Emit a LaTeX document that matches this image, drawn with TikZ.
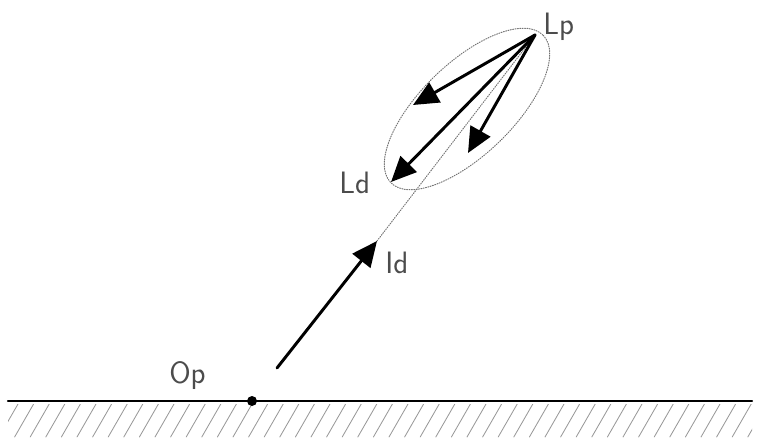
\documentclass[tikz,border=0pt]{standalone}
\usetikzlibrary{arrows.meta}
\begin{document}
\begin{tikzpicture}[x=0.025cm, y=-0.025cm, font=\sffamily\fontsize{22}{26}\selectfont, line join=round, line cap=round,
  vec/.style={line width=2.1pt, -{Triangle[length=18pt,width=16pt]}},
  aux/.style={densely dotted, black!55, line width=0.7pt},
  hatch/.style={gray!80, line width=0.6pt},
  lbl/.style={anchor=base west, inner sep=0pt, text=black!70}]
			\useasboundingbox (0,0) rectangle (760,440);
			\path (252,401) coordinate (Op) (535,35) coordinate (Lp) (391,182) coordinate (Ld)
				(413,105) coordinate (L1) (468,153) coordinate (L2)
				(277,368) coordinate (I0) (377,241) coordinate (Id)
				(8,401) coordinate (G0) (752,401) coordinate (G1);
			% ground
			\begin{scope}
				\clip (8,404) rectangle (752,437);
				\foreach \i in {0,...,49} \draw[hatch] ({\i*15.6-1},437) -- ++(19,-33);
			\end{scope}
			\draw[line width=1.5pt] (G0)--(G1);
			\fill (Op) circle (5);
			% directions
			\draw[aux, rotate around={44:(467,109)}] (467,109) ellipse [x radius=106, y radius=46];
			\draw[aux] (Id)--(Lp);
			\draw[vec] (I0)--(Id);
			\foreach \x in {L1,Ld,L2} \draw[vec] (Lp)--(\x);
			\node[lbl] (tLp) at (543,35) {Lp};
			\node[lbl] (tLd) at (339,193) {Ld};
			\node[lbl] (tId) at (385,273) {Id};
			\node[lbl] (tOp) at (169,383) {Op};
		\end{tikzpicture}
\end{document}
